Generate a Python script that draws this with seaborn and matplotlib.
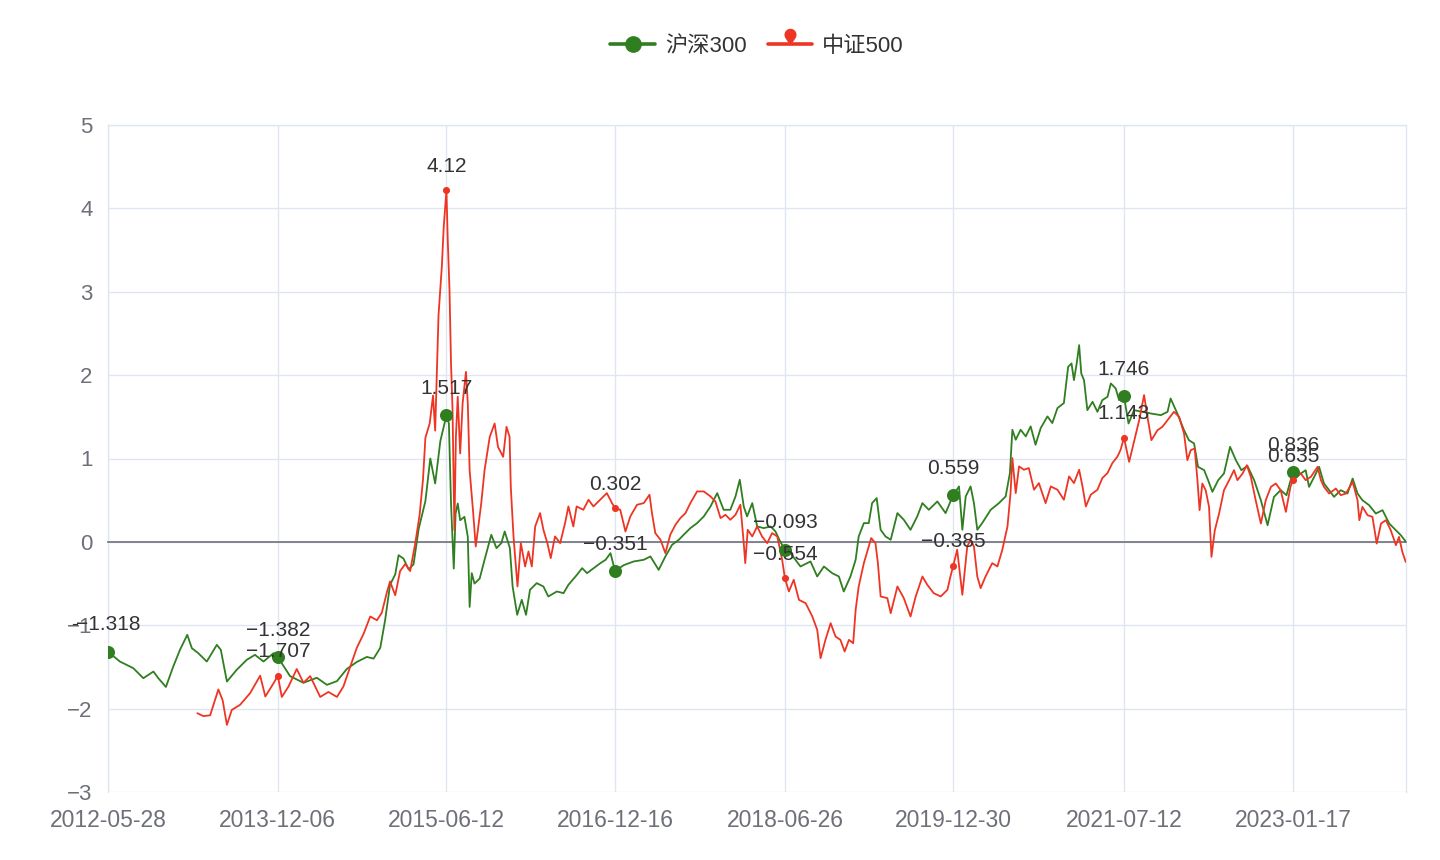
import matplotlib
matplotlib.use("Agg")
import matplotlib.pyplot as plt
from matplotlib.path import Path
from matplotlib.lines import Line2D
import numpy as np
import pandas as pd
import seaborn as sns

# ---------------- data ----------------
hs300_dates = [
    '2012-05-28', '2012-07-06', '2012-08-19', '2012-09-21', '2012-10-24', '2012-11-09', '2012-12-04', '2012-12-28',
    '2013-01-19', '2013-02-12', '2013-02-27', '2013-03-20', '2013-04-17', '2013-05-20', '2013-06-02', '2013-06-22',
    '2013-07-24', '2013-08-26', '2013-09-22', '2013-10-20', '2013-11-22', '2013-12-06',
    '2014-01-15', '2014-02-28', '2014-04-13', '2014-05-16', '2014-06-18', '2014-07-20', '2014-08-22', '2014-09-24',
    '2014-10-16', '2014-11-07', '2014-11-23', '2014-12-09', '2014-12-26',
    '2015-01-06', '2015-01-22', '2015-02-08', '2015-02-24', '2015-03-13', '2015-04-04', '2015-04-20', '2015-05-06', '2015-05-23', '2015-06-12',
    '2015-06-20', '2015-06-27', '2015-07-06', '2015-07-12', '2015-07-19', '2015-07-27', '2015-08-10', '2015-08-21', '2015-08-27',
    '2015-09-03', '2015-09-12', '2015-09-29', '2015-10-15', '2015-11-06', '2015-11-23', '2015-12-09', '2015-12-20',
    '2016-01-06', '2016-01-15', '2016-01-30', '2016-02-14', '2016-02-28', '2016-03-12', '2016-04-03', '2016-04-25', '2016-05-11',
    '2016-06-08', '2016-06-30', '2016-07-16', '2016-08-13', '2016-08-30', '2016-09-15', '2016-10-07', '2016-10-29', '2016-11-15', '2016-12-01', '2016-12-16',
    '2017-01-13', '2017-02-15', '2017-03-20', '2017-04-11', '2017-05-08', '2017-05-30', '2017-06-21', '2017-07-13',
    '2017-07-29', '2017-08-20', '2017-09-11', '2017-10-03', '2017-10-25', '2017-11-16', '2017-12-07', '2017-12-29',
    '2018-01-15', '2018-01-29', '2018-02-11', '2018-02-22', '2018-03-11', '2018-03-27', '2018-04-18', '2018-05-10', '2018-05-26', '2018-06-11', '2018-06-26',
    '2018-07-14', '2018-08-16', '2018-09-18', '2018-10-10', '2018-11-01', '2018-11-28', '2018-12-20',
    '2019-01-05', '2019-01-27', '2019-02-13', '2019-02-23', '2019-03-12', '2019-03-28', '2019-04-08', '2019-04-23', '2019-05-06', '2019-05-22',
    '2019-06-08', '2019-06-30', '2019-07-21', '2019-08-12', '2019-09-03', '2019-09-20', '2019-10-11', '2019-11-08', '2019-12-05', '2019-12-21', '2019-12-30',
    '2020-01-18', '2020-01-29', '2020-02-09', '2020-02-25', '2020-03-07', '2020-03-18', '2020-04-03', '2020-05-01', '2020-05-28', '2020-06-19', '2020-07-03',
    '2020-07-11', '2020-07-22', '2020-08-07', '2020-08-24', '2020-09-09', '2020-09-25', '2020-10-12', '2020-11-03', '2020-11-19', '2020-12-06', '2020-12-27',
    '2021-01-10', '2021-01-21', '2021-01-29', '2021-02-07', '2021-02-15', '2021-02-22', '2021-03-03', '2021-03-14',
    '2021-03-31', '2021-04-16', '2021-05-02', '2021-05-19', '2021-05-30', '2021-06-15', '2021-06-26', '2021-07-12',
    '2021-07-27', '2021-08-14', '2021-10-08', '2021-11-10', '2021-12-02', '2021-12-12',
    '2022-01-03', '2022-01-25', '2022-02-10', '2022-02-27', '2022-03-12', '2022-04-01', '2022-04-14', '2022-04-28', '2022-05-17', '2022-06-05', '2022-06-25',
    '2022-07-14', '2022-08-01', '2022-08-21', '2022-09-12', '2022-10-04', '2022-10-26', '2022-11-16', '2022-12-08', '2022-12-27', '2023-01-17',
    '2023-02-12', '2023-02-28', '2023-03-11', '2023-03-28', '2023-04-13', '2023-04-29', '2023-05-16', '2023-06-01', '2023-06-23', '2023-07-15',
    '2023-08-01', '2023-08-17', '2023-09-02', '2023-09-24', '2023-10-16', '2023-11-07', '2023-11-29', '2023-12-21', '2024-01-06', '2024-01-23',
]
hs300_values = [
    -1.318, -1.435, -1.515, -1.635, -1.555, -1.635, -1.74, -1.495,
    -1.295, -1.115, -1.275, -1.335, -1.435, -1.235, -1.295, -1.675,
    -1.535, -1.415, -1.355, -1.435, -1.335, -1.382,
    -1.61, -1.69, -1.63, -1.715, -1.67, -1.525, -1.44, -1.38,
    -1.40, -1.27, -0.935, -0.515, -0.39,
    -0.16, -0.20, -0.33, -0.27, 0.157, 0.49, 1.0, 0.70, 1.21, 1.517,
    1.42, 0.46, -0.32, 0.34, 0.46, 0.26, 0.30, 0.06, -0.78,
    -0.375, -0.5, -0.44, -0.215, 0.085, -0.075, -0.015, 0.125,
    -0.075, -0.535, -0.875, -0.695, -0.875, -0.575, -0.495, -0.535, -0.655,
    -0.595, -0.615, -0.515, -0.395, -0.315, -0.375, -0.315, -0.255, -0.215, -0.135, -0.351,
    -0.28, -0.235, -0.215, -0.175, -0.336, -0.175, -0.035, 0.025,
    0.085, 0.165, 0.225, 0.305, 0.425, 0.585, 0.385, 0.385,
    0.545, 0.745, 0.425, 0.305, 0.465, 0.185, 0.165, 0.185, 0.125, 0.0, -0.093,
    -0.135, -0.295, -0.235, -0.415, -0.295, -0.375, -0.415,
    -0.595, -0.415, -0.215, 0.065, 0.225, 0.225, 0.465, 0.525, 0.145, 0.065,
    0.025, 0.345, 0.265, 0.145, 0.305, 0.465, 0.385, 0.485, 0.345, 0.485, 0.559,
    0.665, 0.145, 0.545, 0.665, 0.465, 0.145, 0.225, 0.385, 0.465, 0.545, 0.825,
    1.345, 1.225, 1.345, 1.265, 1.385, 1.165, 1.365, 1.505, 1.425, 1.605, 1.665,
    2.10, 2.14, 1.94, 2.14, 2.36, 2.02, 1.94, 1.58,
    1.68, 1.56, 1.70, 1.74, 1.90, 1.84, 1.70, 1.746,
    1.42, 1.58, 1.54, 1.52, 1.56, 1.72,
    1.54, 1.34, 1.22, 1.18, 0.90, 0.86, 0.74, 0.60, 0.74, 0.82, 1.14,
    0.98, 0.86, 0.91, 0.74, 0.50, 0.20, 0.54, 0.62, 0.56, 0.836,
    0.82, 0.86, 0.66, 0.78, 0.90, 0.70, 0.62, 0.54, 0.62, 0.58,
    0.76, 0.58, 0.50, 0.44, 0.34, 0.38, 0.22, 0.14, 0.08, 0.0,
]

zz500_dates = [
    '2013-03-17', '2013-04-06', '2013-04-28', '2013-05-25', '2013-06-08', '2013-06-22', '2013-07-08',
    '2013-08-04', '2013-09-06', '2013-10-09', '2013-10-26', '2013-11-22', '2013-12-06', '2013-12-19',
    '2014-01-10', '2014-02-06', '2014-02-28', '2014-03-22', '2014-04-24', '2014-05-21', '2014-06-18', '2014-07-09', '2014-08-06',
    '2014-08-22', '2014-09-13', '2014-10-05', '2014-10-27', '2014-11-12', '2014-11-29', '2014-12-09', '2014-12-26',
    '2015-01-11', '2015-01-28', '2015-02-13', '2015-03-02', '2015-03-16', '2015-03-27', '2015-04-04',
    '2015-04-18', '2015-04-29', '2015-05-06', '2015-05-17', '2015-05-28', '2015-06-03', '2015-06-12',
    '2015-06-16', '2015-06-22', '2015-06-27', '2015-07-02', '2015-07-08', '2015-07-13',
    '2015-07-19', '2015-07-27', '2015-08-04', '2015-08-15', '2015-08-21', '2015-08-27',
    '2015-09-07', '2015-09-16', '2015-09-23', '2015-10-04', '2015-10-15', '2015-11-01', '2015-11-17', '2015-11-28', '2015-12-15', '2015-12-26',
    '2016-01-05', '2016-01-09', '2016-01-18', '2016-01-31', '2016-02-11', '2016-02-25', '2016-03-07', '2016-03-18', '2016-03-29',
    '2016-04-14', '2016-04-25', '2016-05-08', '2016-05-19', '2016-06-02', '2016-06-19', '2016-07-05', '2016-07-16', '2016-08-01',
    '2016-08-12', '2016-09-03', '2016-09-20', '2016-10-06', '2016-10-28', '2016-11-19', '2016-12-06', '2016-12-16',
    '2017-01-02', '2017-01-19', '2017-02-04', '2017-02-26', '2017-03-20', '2017-04-08', '2017-04-16', '2017-04-27', '2017-05-14', '2017-05-30', '2017-06-15',
    '2017-07-02', '2017-07-18', '2017-08-04', '2017-08-20', '2017-09-11', '2017-10-03', '2017-10-25', '2017-11-10', '2017-11-27', '2017-12-13', '2017-12-29',
    '2018-01-15', '2018-01-31', '2018-02-11', '2018-02-16', '2018-02-24', '2018-03-11', '2018-03-27', '2018-04-12', '2018-04-29', '2018-05-15',
    '2018-06-01', '2018-06-17', '2018-06-26',
    '2018-07-09', '2018-07-25', '2018-08-11', '2018-09-02', '2018-09-24', '2018-10-10', '2018-10-21', '2018-11-06', '2018-11-23', '2018-12-09', '2018-12-25',
    '2019-01-08', '2019-01-22', '2019-02-05', '2019-02-13', '2019-02-23', '2019-03-12', '2019-03-25', '2019-04-05', '2019-04-19', '2019-04-27',
    '2019-05-06', '2019-05-28', '2019-06-08', '2019-06-30', '2019-07-21', '2019-08-12', '2019-08-29', '2019-09-20', '2019-10-06', '2019-10-27',
    '2019-11-19', '2019-12-11', '2019-12-21', '2019-12-30',
    '2020-01-12', '2020-01-29', '2020-02-14', '2020-02-25', '2020-03-07', '2020-03-18', '2020-03-29', '2020-04-14', '2020-05-06', '2020-05-23',
    '2020-06-08', '2020-06-25', '2020-07-05', '2020-07-11', '2020-07-22', '2020-08-02', '2020-08-18', '2020-09-03', '2020-09-20', '2020-10-06',
    '2020-10-28', '2020-11-14', '2020-12-06', '2020-12-27',
    '2021-01-13', '2021-01-29', '2021-02-15', '2021-02-26', '2021-03-09', '2021-03-25', '2021-04-16', '2021-05-02', '2021-05-19',
    '2021-06-04', '2021-06-21', '2021-07-01', '2021-07-12',
    '2021-07-29', '2021-08-14', '2021-08-31', '2021-09-16', '2021-09-27', '2021-10-10', '2021-10-30', '2021-11-15', '2021-12-02', '2021-12-23',
    '2022-01-09', '2022-01-25', '2022-02-05', '2022-02-16', '2022-03-01', '2022-03-10', '2022-03-17', '2022-03-26', '2022-04-06',
    '2022-04-17', '2022-04-25', '2022-05-06', '2022-05-20', '2022-06-05', '2022-06-22', '2022-07-08', '2022-07-19', '2022-08-05',
    '2022-08-19', '2022-09-01', '2022-09-17', '2022-10-04', '2022-10-20', '2022-11-06', '2022-11-22', '2022-12-08', '2022-12-25',
    '2023-01-09', '2023-01-17', '2023-02-12', '2023-02-28', '2023-03-17', '2023-04-08', '2023-04-19', '2023-04-29', '2023-05-16',
    '2023-06-07', '2023-06-23', '2023-07-10', '2023-08-01', '2023-08-17', '2023-08-23', '2023-09-02', '2023-09-19', '2023-10-05',
    '2023-10-19', '2023-11-02', '2023-11-18', '2023-12-04', '2023-12-21', '2023-12-31', '2024-01-11', '2024-01-22',
]
zz500_values = [
    -2.055, -2.09, -2.08, -1.77, -1.90, -2.195, -2.015,
    -1.955, -1.815, -1.605, -1.855, -1.695, -1.607, -1.86,
    -1.735, -1.525, -1.69, -1.61, -1.86, -1.80, -1.86, -1.735, -1.44,
    -1.27, -1.105, -0.895, -0.94, -0.85, -0.60, -0.475, -0.64,
    -0.35, -0.265, -0.35, -0.01, 0.325, 0.745, 1.25,
    1.42, 1.755, 1.335, 2.72, 3.31, 3.775, 4.22,
    3.65, 3.02, 2.14, 1.58, 0.14, 1.26,
    1.74, 1.06, 1.66, 2.04, 1.66, 0.86,
    0.38, -0.055, 0.14, 0.46, 0.86, 1.26, 1.42, 1.14, 1.02, 1.38,
    1.26, 0.66, 0.06, -0.535, -0.015, -0.295, -0.115, -0.295, 0.185,
    0.345, 0.145, -0.015, -0.195, 0.065, -0.015, 0.225, 0.425, 0.185,
    0.425, 0.385, 0.505, 0.425, 0.505, 0.585, 0.465, 0.405,
    0.385, 0.125, 0.305, 0.445, 0.465, 0.565, 0.345, 0.105, 0.025, -0.135, 0.085,
    0.205, 0.285, 0.345, 0.465, 0.605, 0.605, 0.545, 0.485, 0.285, 0.325, 0.265,
    0.325, 0.445, -0.015, -0.255, 0.145, 0.065, 0.185, 0.065, -0.015, 0.105,
    0.065, -0.215, -0.435,
    -0.595, -0.455, -0.695, -0.735, -0.895, -1.055, -1.395, -1.175, -0.975, -1.135, -1.175,
    -1.315, -1.175, -1.215, -0.815, -0.535, -0.255, -0.095, 0.045, -0.015, -0.255,
    -0.655, -0.675, -0.855, -0.535, -0.675, -0.895, -0.655, -0.415, -0.515, -0.615,
    -0.655, -0.575, -0.415, -0.288,
    -0.095, -0.635, -0.055, 0.025, -0.055, -0.415, -0.555, -0.415, -0.255, -0.295,
    -0.095, 0.185, 0.585, 1.005, 0.585, 0.905, 0.865, 0.885, 0.625, 0.705,
    0.465, 0.665, 0.625, 0.505,
    0.785, 0.705, 0.865, 0.665, 0.425, 0.565, 0.625, 0.765, 0.825,
    0.945, 1.025, 1.105, 1.25,
    0.96, 1.20, 1.46, 1.76, 1.50, 1.22, 1.34, 1.38, 1.46, 1.56,
    1.50, 1.30, 0.98, 1.10, 1.12, 0.74, 0.38, 0.70, 0.62,
    0.42, -0.18, 0.14, 0.34, 0.62, 0.74, 0.86, 0.74, 0.82,
    0.92, 0.78, 0.50, 0.22, 0.50, 0.66, 0.70, 0.62, 0.36,
    0.66, 0.74, 0.82, 0.74, 0.78, 0.90, 0.74, 0.66, 0.58,
    0.64, 0.56, 0.58, 0.72, 0.50, 0.26, 0.42, 0.32, 0.30,
    -0.02, 0.22, 0.26, 0.14, -0.04, 0.06, -0.12, -0.24,
]

tick_dates = ['2012-05-28', '2013-12-06', '2015-06-12', '2016-12-16',
              '2018-06-26', '2019-12-30', '2021-07-12', '2023-01-17']
hs300_labels = ['-1.318', '-1.382', '1.517', '-0.351', '-0.093', '0.559', '1.746', '0.836']
zz500_labels = ['-', '-1.707', '4.12', '0.302', '-0.554', '-0.385', '1.143', '0.635']
series_names = ['沪深300', '中证500']
y_ticks = [-3, -2, -1, 0, 1, 2, 3, 4, 5]

# ---------------- style ----------------
GREEN = "#2f7e20"
RED = "#ee3524"
GRID = "#e0e6f1"
AXIS = "#6e7079"
TXT = "#333333"

sns.set_theme(style="white")
plt.rcParams["font.family"] = ["Liberation Sans", "Noto Sans CJK SC", "DejaVu Sans"]
plt.rcParams["axes.unicode_minus"] = True

hs = pd.DataFrame({"date": pd.to_datetime(hs300_dates), "value": hs300_values})
zz = pd.DataFrame({"date": pd.to_datetime(zz500_dates), "value": zz500_values})
ticks = pd.to_datetime(tick_dates)

fig = plt.figure(figsize=(14.4, 8.6), dpi=100)
ax = fig.add_axes([108 / 1440, 1 - 792 / 860, (1406 - 108) / 1440, (792 - 125) / 860])

sns.lineplot(data=hs, x="date", y="value", color=GREEN, lw=1.3, ax=ax, zorder=3, legend=False)
sns.lineplot(data=zz, x="date", y="value", color=RED, lw=1.3, ax=ax, zorder=4, legend=False)

hs_m = hs[hs.date.isin(ticks)]
zz_m = zz[zz.date.isin(ticks)]
sns.scatterplot(data=hs_m, x="date", y="value", color=GREEN, s=88, linewidth=0, ax=ax, zorder=5, legend=False)
sns.scatterplot(data=zz_m, x="date", y="value", color=RED, s=26, linewidth=0, ax=ax, zorder=6, legend=False)

def fmt(t):
    return t.replace("-", "\u2212") if t != "-" else t

for d, lab in zip(ticks, hs300_labels):
    v = hs.loc[hs.date == d, "value"].iloc[0]
    ax.annotate(fmt(lab), (d, v), xytext=(0, 19.5), textcoords="offset points",
                ha="center", va="center", fontsize=15, color=TXT, zorder=7)
for d, lab in zip(ticks, zz500_labels):
    row = zz.loc[zz.date == d, "value"]
    if len(row):
        ax.annotate(fmt(lab), (d, row.iloc[0]), xytext=(0, 17.3), textcoords="offset points",
                    ha="center", va="center", fontsize=15, color=TXT, zorder=7)
    else:
        v = hs.loc[hs.date == d, "value"].iloc[0]
        ax.annotate(lab, (d, v), xytext=(-24, 19.5), textcoords="offset points",
                    ha="center", va="center", fontsize=15, color=TXT, zorder=7)

# ---------------- axes ----------------
ax.set_ylim(y_ticks[0], y_ticks[-1])
ax.set_yticks(y_ticks)
ax.set_xlim(hs.date.min(), max(hs.date.max(), zz.date.max()))
ax.set_xticks(ticks)
ax.set_xticklabels(tick_dates)
ax.set_xlabel("")
ax.set_ylabel("")
ax.grid(True, color=GRID, lw=1.0)
ax.set_axisbelow(True)
for s in ["left", "right", "top"]:
    ax.spines[s].set_color(GRID)
    ax.spines[s].set_linewidth(1.0)
ax.spines["bottom"].set_position(("data", 0))
ax.spines["bottom"].set_color(AXIS)
ax.spines["bottom"].set_linewidth(1.2)
ax.spines["bottom"].set_zorder(2.6)
ax.tick_params(axis="x", direction="out", length=4, width=1.0, color=AXIS,
               pad=188, labelsize=16.5, labelcolor=AXIS)
ax.tick_params(axis="y", length=0, pad=11, labelsize=16, labelcolor=AXIS)

# ---------------- legend ----------------
r = 0.55
phi = np.radians(np.linspace(-33.4, 213.4, 40))
verts = [(0.0, 0.0)] + [(r * np.cos(p), 1.0 + r * np.sin(p)) for p in phi] + [(0.0, 0.0)]
codes = [Path.MOVETO] + [Path.LINETO] * (len(verts) - 2) + [Path.CLOSEPOLY]
pin = Path(verts, codes)

handles = [
    Line2D([], [], color=GREEN, lw=2.6, marker="o", ms=11, mec=GREEN, mfc=GREEN),
    Line2D([], [], color=RED, lw=2.6, marker=pin, ms=21.6, mec=RED, mfc=RED),
]
fig.legend(handles, series_names, loc="center", bbox_to_anchor=(757 / 1440, 1 - 46 / 860),
           ncol=2, frameon=False, fontsize=16, handlelength=2.0, handletextpad=0.45,
           columnspacing=0.95, labelcolor=TXT)

fig.savefig("out.png", dpi=100)
